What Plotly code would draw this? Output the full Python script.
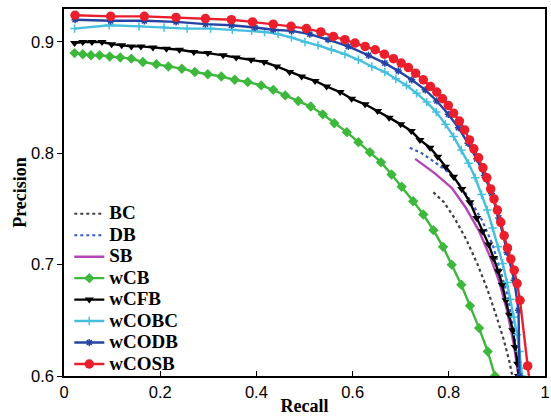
import plotly.graph_objects as go

# ---------------- data ----------------
bc_recall = [0.768, 0.790, 0.813, 0.837, 0.860, 0.880, 0.898, 0.914, 0.926, 0.932]
bc_prec   = [0.765, 0.756, 0.741, 0.722, 0.700, 0.678, 0.655, 0.633, 0.613, 0.600]

db_recall = [0.719, 0.744, 0.771, 0.799, 0.824, 0.844, 0.869, 0.890, 0.907, 0.923, 0.935, 0.942, 0.946]
db_prec   = [0.805, 0.800, 0.792, 0.783, 0.771, 0.758, 0.740, 0.719, 0.695, 0.671, 0.641, 0.611, 0.600]

sb_recall = [0.730, 0.771, 0.806, 0.834, 0.862, 0.886, 0.904, 0.921, 0.935, 0.945]
sb_prec   = [0.795, 0.782, 0.769, 0.752, 0.731, 0.707, 0.686, 0.659, 0.629, 0.600]

wcb_recall = [0.022, 0.039, 0.056, 0.074, 0.095, 0.117, 0.140, 0.164, 0.192, 0.217,
              0.245, 0.272, 0.299, 0.327, 0.355, 0.382, 0.410, 0.435, 0.460, 0.487,
              0.513, 0.538, 0.562, 0.588, 0.612, 0.636, 0.659, 0.681, 0.702, 0.726,
              0.747, 0.768, 0.788, 0.806, 0.826, 0.844, 0.863, 0.881, 0.896]
wcb_prec   = [0.890, 0.889, 0.888, 0.888, 0.887, 0.886, 0.885, 0.882, 0.880, 0.878,
              0.876, 0.873, 0.871, 0.869, 0.866, 0.864, 0.861, 0.857, 0.852, 0.847,
              0.842, 0.835, 0.827, 0.819, 0.810, 0.801, 0.792, 0.781, 0.770, 0.757,
              0.745, 0.731, 0.716, 0.700, 0.682, 0.663, 0.643, 0.622, 0.600]

wcfb_recall = [0.022, 0.039, 0.058, 0.079, 0.099, 0.120, 0.140, 0.160, 0.185, 0.213,
               0.240, 0.270, 0.299, 0.331, 0.358, 0.389, 0.416, 0.442, 0.469, 0.494,
               0.522, 0.546, 0.574, 0.598, 0.626, 0.652, 0.676, 0.700, 0.722, 0.740,
               0.761, 0.777, 0.793, 0.810, 0.827, 0.844, 0.858, 0.870, 0.883, 0.893,
               0.903, 0.911, 0.919, 0.926, 0.933, 0.938, 0.943, 0.945]
wcfb_prec   = [0.899, 0.900, 0.900, 0.900, 0.898, 0.897, 0.896, 0.896, 0.895, 0.894,
               0.893, 0.891, 0.890, 0.888, 0.886, 0.884, 0.882, 0.878, 0.873, 0.869,
               0.865, 0.860, 0.855, 0.849, 0.844, 0.838, 0.832, 0.826, 0.820, 0.812,
               0.805, 0.797, 0.788, 0.779, 0.768, 0.756, 0.742, 0.730, 0.718, 0.706,
               0.694, 0.682, 0.668, 0.655, 0.641, 0.626, 0.611, 0.600]

wcobc_recall = [0.022, 0.094, 0.156, 0.208, 0.256, 0.305, 0.350, 0.390, 0.417, 0.445,
                0.473, 0.501, 0.528, 0.556, 0.584, 0.612, 0.640, 0.667, 0.690, 0.712,
                0.733, 0.754, 0.774, 0.793, 0.810, 0.826, 0.841, 0.855, 0.868, 0.880,
                0.891, 0.902, 0.912, 0.921, 0.928, 0.935, 0.942, 0.947, 0.951, 0.952]
wcobc_prec   = [0.912, 0.915, 0.914, 0.913, 0.912, 0.912, 0.911, 0.910, 0.909, 0.907,
                0.904, 0.900, 0.897, 0.893, 0.889, 0.884, 0.878, 0.873, 0.867, 0.861,
                0.854, 0.846, 0.837, 0.826, 0.815, 0.803, 0.791, 0.778, 0.763, 0.749,
                0.733, 0.716, 0.701, 0.684, 0.669, 0.653, 0.637, 0.622, 0.607, 0.600]

wcodb_recall = [0.023, 0.097, 0.167, 0.233, 0.294, 0.348, 0.397, 0.435, 0.473, 0.511,
                0.549, 0.591, 0.633, 0.667, 0.695, 0.723, 0.751, 0.775, 0.799, 0.820,
                0.840, 0.858, 0.874, 0.889, 0.904, 0.921, 0.936, 0.945, 0.947]
wcodb_prec   = [0.920, 0.919, 0.919, 0.918, 0.916, 0.915, 0.913, 0.911, 0.910, 0.907,
                0.902, 0.896, 0.888, 0.881, 0.874, 0.866, 0.857, 0.847, 0.835, 0.823,
                0.809, 0.795, 0.780, 0.764, 0.742, 0.711, 0.686, 0.659, 0.600]

wcosb_recall = [0.023, 0.097, 0.167, 0.233, 0.294, 0.348, 0.392, 0.435, 0.472, 0.504,
                0.534, 0.560, 0.584, 0.605, 0.626, 0.647, 0.666, 0.685, 0.701, 0.716,
                0.731, 0.747, 0.762, 0.775, 0.787, 0.799, 0.810, 0.822, 0.833, 0.843,
                0.852, 0.862, 0.871, 0.879, 0.887, 0.894, 0.901, 0.908, 0.915, 0.922,
                0.929, 0.936, 0.942, 0.948, 0.964, 0.968]
wcosb_prec   = [0.924, 0.923, 0.923, 0.922, 0.921, 0.920, 0.918, 0.916, 0.914, 0.912,
                0.909, 0.905, 0.902, 0.899, 0.896, 0.893, 0.889, 0.885, 0.881, 0.877,
                0.872, 0.866, 0.860, 0.855, 0.849, 0.843, 0.836, 0.829, 0.821, 0.812,
                0.804, 0.796, 0.787, 0.778, 0.768, 0.759, 0.749, 0.738, 0.726, 0.715,
                0.705, 0.695, 0.683, 0.668, 0.609, 0.595]

x_ticks = [0, 0.2, 0.4, 0.6, 0.8, 1]
x_tick_labels = ["0", "0.2", "0.4", "0.6", "0.8", "1"]
y_ticks = [0.6, 0.7, 0.8, 0.9]
y_tick_labels = ["0.6", "0.7", "0.8", "0.9"]

# ---------------- figure ----------------
def leg(name):
    return '<span style="font-size:19px">' + name + '</span>'

fig = go.Figure()

fig.add_trace(go.Scatter(x=bc_recall, y=bc_prec, mode="lines", name=leg("BC"),
                         line=dict(color="#404040", width=2.2, dash="dot")))
fig.add_trace(go.Scatter(x=db_recall, y=db_prec, mode="lines", name=leg("DB"),
                         line=dict(color="#3A5BC8", width=2.2, dash="dot")))
fig.add_trace(go.Scatter(x=sb_recall, y=sb_prec, mode="lines", name=leg("SB"),
                         line=dict(color="#B445B4", width=2.4)))
fig.add_trace(go.Scatter(x=wcb_recall, y=wcb_prec, mode="lines+markers", name=leg("wCB"),
                         line=dict(color="#3DB83D", width=2.4),
                         marker=dict(symbol="diamond", size=8, color="#3DB83D")))
fig.add_trace(go.Scatter(x=wcfb_recall, y=wcfb_prec, mode="lines+markers", name=leg("wCFB"),
                         line=dict(color="#000000", width=2.4),
                         marker=dict(symbol="triangle-down", size=8, color="#000000")))
fig.add_trace(go.Scatter(x=wcobc_recall, y=wcobc_prec, mode="lines+markers", name=leg("wCOBC"),
                         line=dict(color="#45BFDD", width=2.4),
                         marker=dict(symbol="cross-thin-open", size=6,
                                     line=dict(color="#45BFDD", width=1.5))))
fig.add_trace(go.Scatter(x=wcodb_recall, y=wcodb_prec, mode="lines+markers", name=leg("wCODB"),
                         line=dict(color="#2443A3", width=2.4),
                         marker=dict(symbol="asterisk-open", size=6,
                                     line=dict(color="#2443A3", width=1.5))))
fig.add_trace(go.Scatter(x=wcosb_recall, y=wcosb_prec, mode="lines+markers", name=leg("wCOSB"),
                         line=dict(color="#EA1F2B", width=2.4),
                         marker=dict(symbol="circle", size=9.5, color="#EA1F2B")))

axis_common = dict(showline=True, linecolor="black", linewidth=1.5, mirror=True,
                   showgrid=False, zeroline=False, ticklen=5, tickwidth=1,
                   tickcolor="black", automargin=False,
                   tickfont=dict(family="Liberation Sans, Arial", size=16.5, color="black"))

fig.update_layout(
    width=551, height=417,
    margin=dict(l=64, r=6, t=9, b=41),
    paper_bgcolor="white", plot_bgcolor="white",
    showlegend=True,
    legend=dict(x=0.011, y=-0.011, xanchor="left", yanchor="bottom",
                bgcolor="rgba(0,0,0,0)", borderwidth=0,
                font=dict(family="Liberation Serif, Times New Roman", size=14.2,
                          color="black", weight="bold"),
                tracegroupgap=0),
    xaxis=dict(range=[0, 1], tickvals=x_ticks, ticktext=x_tick_labels,
               ticks="inside",
               title=dict(text="Recall", standoff=0,
                          font=dict(family="Liberation Serif, Times New Roman",
                                    size=18, color="black", weight="bold")),
               **axis_common),
    yaxis=dict(range=[0.6, 0.9296], tickvals=y_ticks, ticktext=y_tick_labels,
               ticks="outside",
               title=dict(text="Precision", standoff=0,
                          font=dict(family="Liberation Serif, Times New Roman",
                                    size=18, color="black", weight="bold")),
               **axis_common),
)

fig.write_html("out.html", config={"displayModeBar": False},
               post_script="document.body.style.margin='0px';document.body.style.padding='0px';")
